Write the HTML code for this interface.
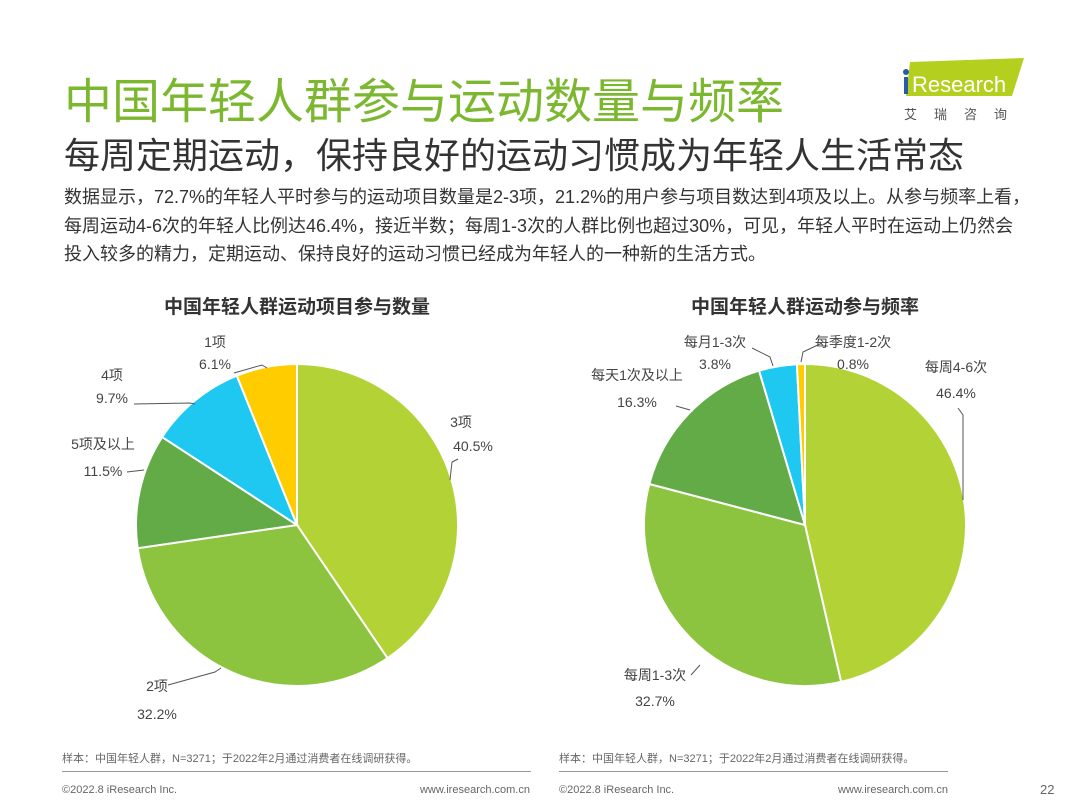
<!DOCTYPE html>
<html><head><meta charset="utf-8"><style>
body{margin:0;width:1080px;height:810px;background:#fff;position:relative;overflow:hidden;font-family:"Liberation Sans","Noto Sans CJK SC",sans-serif;color:#333}
.a{position:absolute;white-space:nowrap}
</style></head><body>
<div class="a" style="left:64px;top:62px;font-size:48px;color:#7cb82f;letter-spacing:0px">中国年轻人群参与运动数量与频率</div>
<div class="a" style="left:64px;top:127px;font-size:36px;color:#333">每周定期运动，保持良好的运动习惯成为年轻人生活常态</div>
<div class="a" style="left:64px;top:183px;font-size:18px;line-height:28.5px;color:#333">数据显示，72.7%的年轻人平时参与的运动项目数量是2-3项，21.2%的用户参与项目数达到4项及以上。从参与频率上看，<br>每周运动4-6次的年轻人比例达46.4%，接近半数；每周1-3次的人群比例也超过30%，可见，年轻人平时在运动上仍然会<br>投入较多的精力，定期运动、保持良好的运动习惯已经成为年轻人的一种新的生活方式。</div>
<svg class="a" style="left:890px;top:56px" width="140" height="70">
<polygon points="20,6 134,2 122,40 16,40" fill="#b5cf1f"/>
<circle cx="16" cy="16" r="3" fill="#2a5ca8"/>
<rect x="14" y="21" width="4" height="17" fill="#2a5ca8"/>
<text x="22" y="36" font-size="22" fill="#fff" font-family="Liberation Sans">Research</text>
<text x="14" y="63" font-size="13" fill="#555" letter-spacing="17" font-family="Noto Sans CJK SC">艾瑞咨询</text>
</svg>
<div class="a" style="left:0;width:594px;top:292px;text-align:center;font-size:19px;font-weight:bold;color:#333">中国年轻人群运动项目参与数量</div>
<div class="a" style="left:508px;width:594px;top:292px;text-align:center;font-size:19px;font-weight:bold;color:#333">中国年轻人群运动参与频率</div>
<svg class="a" style="left:0;top:0" width="1080" height="810" id="s" font-family="Liberation Sans, Noto Sans CJK SC, sans-serif" font-size="14" fill="#444"></svg>
<div class="a" style="left:62px;top:750px;font-size:11px;color:#666">样本：中国年轻人群，N=3271；于2022年2月通过消费者在线调研获得。</div>
<div class="a" style="left:559px;top:750px;font-size:11px;color:#666">样本：中国年轻人群，N=3271；于2022年2月通过消费者在线调研获得。</div>
<div class="a" style="left:62px;top:771px;width:469px;height:1px;background:#999"></div>
<div class="a" style="left:559px;top:771px;width:389px;height:1px;background:#999"></div>
<div class="a" style="left:62px;top:784px;font-size:11px;color:#666">©2022.8 iResearch Inc.</div>
<div class="a" style="left:400px;width:130px;text-align:right;top:784px;font-size:11px;color:#666">www.iresearch.com.cn</div>
<div class="a" style="left:559px;top:784px;font-size:11px;color:#666">©2022.8 iResearch Inc.</div>
<div class="a" style="left:818px;width:130px;text-align:right;top:784px;font-size:11px;color:#666">www.iresearch.com.cn</div>
<div class="a" style="left:1040px;top:782px;font-size:13px;color:#666">22</div>
<script>
var s=document.getElementById('s'),h='';
function pie(cx,cy,r,d,c){var a=0;d.forEach(function(v,i){var a0=a*2*Math.PI/100;a+=v;var a1=a*2*Math.PI/100;
var x0=cx+r*Math.sin(a0),y0=cy-r*Math.cos(a0),x1=cx+r*Math.sin(a1),y1=cy-r*Math.cos(a1);
h+='<path d="M'+cx+','+cy+'L'+x0+','+y0+'A'+r+','+r+' 0 '+(v>50?1:0)+' 1 '+x1+','+y1+'Z" fill="'+c[i]+'" stroke="#fff" stroke-width="2"/>';});}
var C=['#b2d235','#8cc440','#62ab46','#1ec8f0','#ffcc00'];
pie(297,525,161,[40.5,32.2,11.5,9.7,6.1],C);
pie(805,525,161,[46.4,32.7,16.3,3.8,0.8],C);
function t(x,y,s,a){h+='<text x="'+x+'" y="'+y+'" text-anchor="'+(a||'start')+'">'+s+'</text>';}
function l(p){h+='<polyline points="'+p+'" fill="none" stroke="#555" stroke-width="1"/>';}
t(215,347,'1项','middle');t(215,369,'6.1%','middle');l('234,373 262,365 267,368');
t(112,380,'4项','middle');t(112,403,'9.7%','middle');l('134,404 190,403 195,404');
t(103,449,'5项及以上','middle');t(103,476,'11.5%','middle');l('127,472 144,470');
t(461,427,'3项','middle');t(473,451,'40.5%','middle');l('458,459 452,462 450,480');
t(157,691,'2项','middle');t(157,719,'32.2%','middle');l('168,685 215,672 221,668');
t(715,347,'每月1-3次','middle');t(715,369,'3.8%','middle');l('752,348 770,357 773,366');
t(853,347,'每季度1-2次','middle');t(853,369,'0.8%','middle');l('822,343 803,352 801,362');
t(637,380,'每天1次及以上','middle');t(637,407,'16.3%','middle');l('676,406 690,410');
t(956,372,'每周4-6次','middle');t(956,398,'46.4%','middle');l('958,408 963,415 963,500');
t(655,680,'每周1-3次','middle');t(655,706,'32.7%','middle');l('691,675 700,665');
s.innerHTML=h;
</script>
</body></html>
